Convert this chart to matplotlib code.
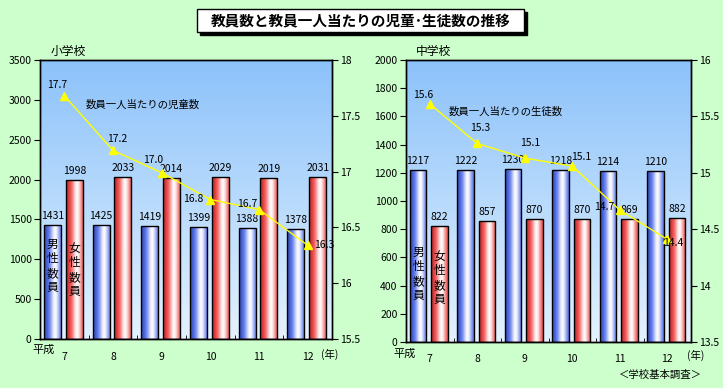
import numpy as np
import matplotlib
matplotlib.use("Agg")
import matplotlib.pyplot as plt
from matplotlib.patches import Rectangle

plt.rcParams["font.family"] = ["Noto Sans CJK JP", "DejaVu Sans"]

# data
years = ["7", "8", "9", "10", "11", "12"]

elem_male = [1431, 1425, 1419, 1399, 1388, 1378]
elem_female = [1998, 2033, 2014, 2029, 2019, 2031]
elem_ratio = [17.68, 17.19, 16.99, 16.75, 16.66, 16.34]

junior_male = [1217, 1222, 1230, 1218, 1214, 1210]
junior_female = [822, 857, 870, 870, 869, 882]
junior_ratio = [15.61, 15.26, 15.13, 15.06, 14.67, 14.41]

W, H = 723, 388
BG = "#CCFFCC"


def shade(base, n=64):
    t = np.linspace(0, 1, n)
    w = 0.97 * np.exp(-((t - 0.62) / 0.26) ** 2)
    dark = 0.75 + 0.25 * np.clip(t * 4, 0, 1)
    base = np.array(base) / 255.0
    col = base[None, :] * dark[:, None] * (1 - w[:, None]) + w[:, None]
    return np.clip(col, 0, 1)[None, :, :]


BLUE = shade((70, 100, 232))
RED = shade((238, 60, 60))


def px_axes(left, top, right, bottom):
    return [left / W, 1 - bottom / H, (right - left) / W, (bottom - top) / H]


def draw_panel(rect, male, female, ratio, ymax, ystep, rlim, title, line_label,
               line_label_xy, offsets, male_txt_y, female_txt_y, heisei_xy):
    ax = fig.add_axes(rect)
    n = len(years)
    x = np.arange(n)

    # plot area gradient
    grad = np.linspace(0, 1, 256)[:, None]
    top = np.array([140, 194, 250]) / 255.0
    bot = np.array([228, 242, 255]) / 255.0
    img = (top[None, None, :] * (1 - grad[:, :, None]) + bot[None, None, :] * grad[:, :, None])
    ax.imshow(img, extent=[0, 1, 0, 1], transform=ax.transAxes, aspect="auto", zorder=0)

    bw = 0.35
    for vals, off, cmap in [(male, -0.245, BLUE), (female, 0.205, RED)]:
        bars = ax.bar(x + off, vals, width=bw, facecolor="none", edgecolor="black",
                      linewidth=1.0, zorder=3)
        for b, v in zip(bars, vals):
            im = ax.imshow(cmap, extent=[b.get_x(), b.get_x() + b.get_width(), 0, v],
                           aspect="auto", zorder=2, interpolation="bilinear")
            im.set_clip_path(b)
            ax.annotate(f"{v}", (b.get_x() + b.get_width() / 2, v), xytext=(0, 4),
                        textcoords="offset pixels", ha="center", va="bottom", fontsize=7.5,
                        zorder=5)

    ax.text(x[0] - 0.245, male_txt_y, "\n".join("男性数員"), transform=ax.get_xaxis_transform(),
            ha="center", va="center", fontsize=8.5, linespacing=1.15, zorder=5)
    ax.text(x[0] + 0.205, female_txt_y, "\n".join("女性数員"), transform=ax.get_xaxis_transform(),
            ha="center", va="center", fontsize=8.5, linespacing=1.15, zorder=5)

    ax.set_xlim(-0.5, n - 0.5)
    ax.set_ylim(0, ymax)
    ax.set_yticks(np.arange(0, ymax + 1, ystep))
    ax.set_xticks(x)
    ax.set_xticklabels(years)
    ax.set_xticks(np.arange(0.5, n - 0.5, 1), minor=True)
    ax.tick_params(axis="x", which="major", length=0, pad=9, labelsize=7.5)
    ax.tick_params(axis="x", which="minor", direction="in", length=3)
    ax.tick_params(axis="y", direction="out", length=4, pad=2, labelsize=7.5)
    ax.set_facecolor("none")

    ax.text(heisei_xy[0], heisei_xy[1], "平成", transform=ax.transAxes,
            ha="center", va="center", fontsize=8)

    ax2 = ax.twinx()
    ax2.plot(x, ratio, color="#FFFF00", linewidth=1.0, marker="^", markersize=6,
             markerfacecolor="#FFFF00", markeredgecolor="#FFFF00", zorder=6)
    for xi, r, (dx, dy) in zip(x, ratio, offsets):
        ax2.annotate(f"{r:.1f}", (xi, r), xytext=(dx, dy), textcoords="offset pixels",
                     ha="center", va="center", fontsize=7.5, zorder=7)
    ax2.set_ylim(*rlim)
    rt = np.arange(rlim[0], rlim[1] + 0.01, 0.5)
    ax2.set_yticks(rt)
    ax2.set_yticklabels([f"{v:g}" for v in rt])
    ax2.tick_params(axis="y", direction="out", length=4, pad=2, labelsize=7.5)

    ax2.text(line_label_xy[0], line_label_xy[1], line_label, transform=ax.transAxes,
             ha="left", va="center", fontsize=7.5)
    ax.text(0.036, 1.029, title, transform=ax.transAxes, ha="left", va="center", fontsize=8.5)
    for s in list(ax.spines.values()) + list(ax2.spines.values()):
        s.set_linewidth(1.0)
    return ax


fig = plt.figure(figsize=(W / 100, H / 100), dpi=100, facecolor=BG)

draw_panel(px_axes(40, 60, 332, 339), elem_male, elem_female, elem_ratio, 3500, 500,
           (15.5, 18), "小学校", "数員一人当たりの児童数", (0.155, 0.838),
           [(-7, 11), (4, 11), (-9, 13), (-17, 0), (-12, 6), (17, 0)], 0.262, 0.247,
           (0.012, -0.038))

draw_panel(px_axes(406, 60, 691, 342), junior_male, junior_female, junior_ratio, 2000, 200,
           (13.5, 16), "中学校", "数員一人当たりの生徒数", (0.148, 0.816),
           [(-7, 9), (3, 15), (5, 15), (9, 9), (-16, 3), (6, -4)], 0.241, 0.227,
           (-0.005, -0.04))

# year units and source
fig.text(330 / W, 1 - 354 / H, "(年)", ha="center", va="center", fontsize=7.5)
fig.text(696 / W, 1 - 355 / H, "(年)", ha="center", va="center", fontsize=7.5)
fig.text(660 / W, 1 - 375 / H, "＜学校基本調査＞", ha="center", va="center", fontsize=7.5)

# title box with shadow
fig.add_artist(Rectangle((200 / W, 1 - 35 / H), 327 / W, 23 / H, transform=fig.transFigure,
                         facecolor="black", edgecolor="black", zorder=10))
fig.add_artist(Rectangle((197 / W, 1 - 32 / H), 327 / W, 23 / H, transform=fig.transFigure,
                         facecolor="white", edgecolor="black", linewidth=1.0, zorder=11))
fig.text(360.5 / W, 1 - 20.5 / H, "教員数と教員一人当たりの児童･生徒数の推移",
         ha="center", va="center", fontsize=10.5, fontweight="bold", zorder=12)

fig.savefig("out.png", dpi=100, facecolor=BG)
